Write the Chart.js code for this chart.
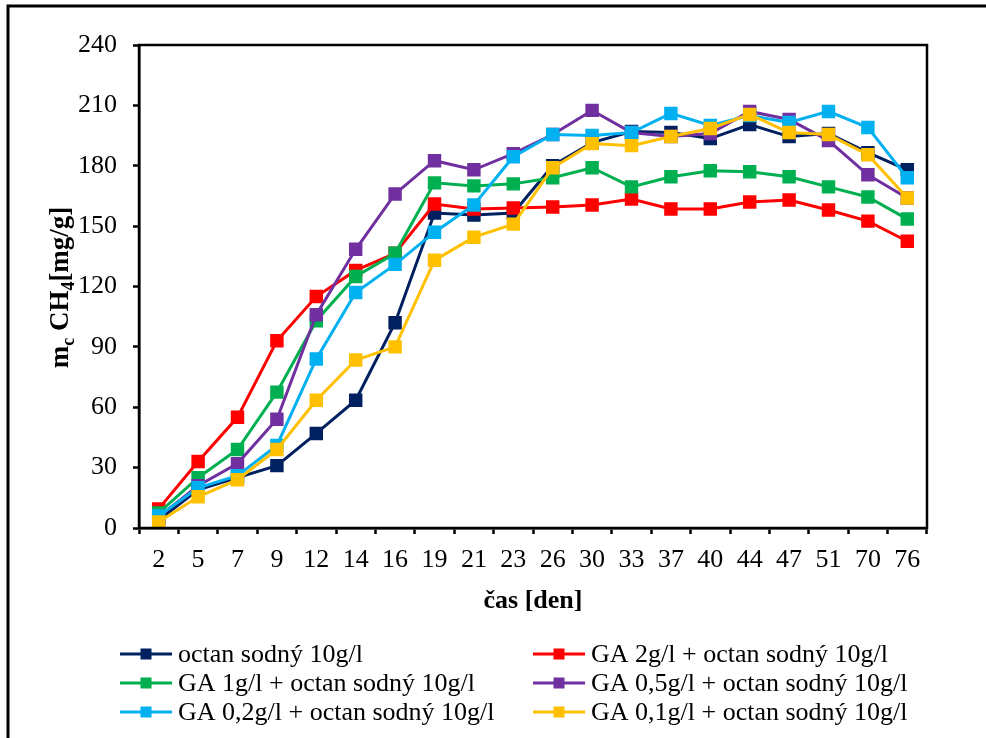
<!DOCTYPE html>
<html>
<head>
<meta charset="utf-8">
<script src="https://cdn.jsdelivr.net/npm/chart.js@4.4.1/dist/chart.umd.min.js"></script>
<style>
  html, body { margin: 0; padding: 0; background: #fff; }
  #wrap { width: 986px; height: 738px; }
</style>
</head>
<body>
<div id="wrap"><canvas id="chart" width="986" height="738"></canvas></div>
<script>
const days = ["2", "5", "7", "9", "12", "14", "16", "19", "21", "23", "26", "30", "33", "37", "40", "44", "47", "51", "70", "76"];
const yTicks = [0, 30, 60, 90, 120, 150, 180, 210, 240];

const octan = [4, 19, 25, 31, 47, 63.5, 102, 156.5, 155.5, 156.5, 180, 191.5, 197, 196.5, 193.5, 200.5, 194.5, 196, 186.5, 178];
const ga2 = [9.5, 33, 55, 93, 115, 128, 136.5, 161, 158.5, 159, 159.5, 160.5, 163.5, 158.5, 158.5, 162, 163, 158, 152.5, 142.5];
const ga1 = [7.5, 25, 39, 67.5, 103, 125, 136.5, 171.5, 170, 171, 174, 179, 169.5, 174.5, 177.5, 177, 174.5, 169.5, 164.5, 153.5];
const ga05 = [5.5, 21, 32, 54, 106, 138.5, 166, 182.5, 178, 186, 195.5, 207.5, 196.5, 194.5, 196, 207, 203, 192.5, 175.5, 164];
const ga02 = [6, 20, 26, 41, 84, 117, 131, 147, 160.5, 184.5, 195.5, 195, 196.5, 206, 200, 205, 201.5, 207, 199, 174];
const ga01 = [3, 15.5, 24, 39, 63.5, 83.5, 90, 133, 144.5, 151, 179, 191, 190, 194.5, 198.5, 205.5, 196.5, 195.5, 185.5, 164];

const seriesNames = [
  "octan sodný 10g/l",
  "GA 2g/l + octan sodný 10g/l",
  "GA 1g/l + octan sodný 10g/l",
  "GA 0,5g/l + octan sodný 10g/l",
  "GA 0,2g/l + octan sodný 10g/l",
  "GA 0,1g/l + octan sodný 10g/l"
];
const seriesValues = [octan, ga2, ga1, ga05, ga02, ga01];
const seriesColors = ["#002060", "#FF0000", "#00B050", "#7030A0", "#00B0F0", "#FFC000"];

const FONT = "'Liberation Serif', 'Times New Roman', serif";

const datasets = seriesNames.map((name, i) => ({
  label: name,
  data: seriesValues[i],
  borderColor: seriesColors[i],
  backgroundColor: seriesColors[i],
  borderWidth: 3,
  pointStyle: "rect",
  pointRadius: 9.5,
  pointHoverRadius: 9.5,
  pointBorderWidth: 0,
  tension: 0,
  order: seriesNames.length - i  // later series on top, like excel
}));

// frame, axis titles and the two-column legend
const decor = {
  id: "decor",
  beforeDraw(chart) {
    const ctx = chart.ctx;
    ctx.save();
    ctx.strokeStyle = "#000";
    ctx.lineWidth = 3;
    ctx.beginPath();
    ctx.moveTo(8, 738);
    ctx.lineTo(8, 6);
    ctx.lineTo(986, 6);
    ctx.stroke();
    ctx.restore();
  },
  afterDatasetsDraw(chart) {
    const ctx = chart.ctx;
    const a = chart.chartArea;
    ctx.save();
    ctx.strokeStyle = "#000";
    ctx.lineWidth = 2.5;
    ctx.strokeRect(a.left, a.top, a.right - a.left, a.bottom - a.top);
    ctx.restore();
  },
  afterDraw(chart) {
    const ctx = chart.ctx;
    const a = chart.chartArea;
    ctx.save();
    ctx.fillStyle = "#000";

    // x title
    ctx.font = "bold 26px " + FONT;
    ctx.textAlign = "center";
    ctx.textBaseline = "middle";
    ctx.fillText("čas [den]", (a.left + a.right) / 2, 601);

    // y title with subscripts
    const parts = [
      {t: "m", sub: false}, {t: "c", sub: true}, {t: " CH", sub: false},
      {t: "4", sub: true}, {t: "[mg/g]", sub: false}
    ];
    ctx.translate(68, (a.top + a.bottom) / 2 + 1);
    ctx.rotate(-Math.PI / 2);
    ctx.textAlign = "left";
    ctx.textBaseline = "alphabetic";
    let total = 0;
    parts.forEach(p => {
      ctx.font = (p.sub ? "bold 18px " : "bold 27px ") + FONT;
      p.w = ctx.measureText(p.t).width;
      total += p.w;
    });
    let x = -total / 2;
    parts.forEach(p => {
      ctx.font = (p.sub ? "bold 18px " : "bold 27px ") + FONT;
      ctx.fillText(p.t, x, p.sub ? 6 : 0);
      x += p.w;
    });
    ctx.restore();

    // legend
    ctx.save();
    const cols = [120, 533];
    const rows = [654, 683, 712];
    ctx.font = "26px " + FONT;
    ctx.textBaseline = "middle";
    ctx.textAlign = "left";
    chart.data.datasets.forEach((ds, i) => {
      const lx = cols[i % 2];
      const ly = rows[Math.floor(i / 2)];
      ctx.strokeStyle = ds.borderColor;
      ctx.lineWidth = 3;
      ctx.beginPath();
      ctx.moveTo(lx, ly);
      ctx.lineTo(lx + 52, ly);
      ctx.stroke();
      ctx.fillStyle = ds.borderColor;
      ctx.fillRect(lx + 26 - 5.5, ly - 5.5, 11, 11);
      ctx.fillStyle = "#000";
      ctx.fillText(ds.label, lx + 58, ly + 1);
    });
    ctx.restore();
  }
};

new Chart(document.getElementById("chart").getContext("2d"), {
  type: "line",
  data: {labels: days, datasets},
  options: {
    responsive: false,
    animation: false,
    events: [],
    layout: {padding: {left: 0, top: 45, right: 59, bottom: 0}},
    plugins: {legend: {display: false}, tooltip: {enabled: false}},
    scales: {
      x: {
        offset: true,
        grid: {display: true, drawOnChartArea: false, drawTicks: true, tickLength: 6, tickWidth: 2.5, tickColor: "#000", offset: true},
        border: {display: true, color: "#000", width: 2.5},
        ticks: {color: "#000", font: {family: FONT, size: 26}, padding: 11, maxRotation: 0, autoSkip: false},
        afterFit: s => { s.height = 210; }
      },
      y: {
        min: 0,
        max: 240,
        afterBuildTicks: s => { s.ticks = yTicks.map(v => ({value: v})); },
        grid: {display: true, drawOnChartArea: false, drawTicks: true, tickLength: 6, tickWidth: 2.5, tickColor: "#000"},
        border: {display: true, color: "#000", width: 2.5},
        ticks: {color: "#000", font: {family: FONT, size: 26}, padding: 16},
        afterFit: s => { s.width = 139; }
      }
    }
  },
  plugins: [decor]
});
</script>
</body>
</html>
